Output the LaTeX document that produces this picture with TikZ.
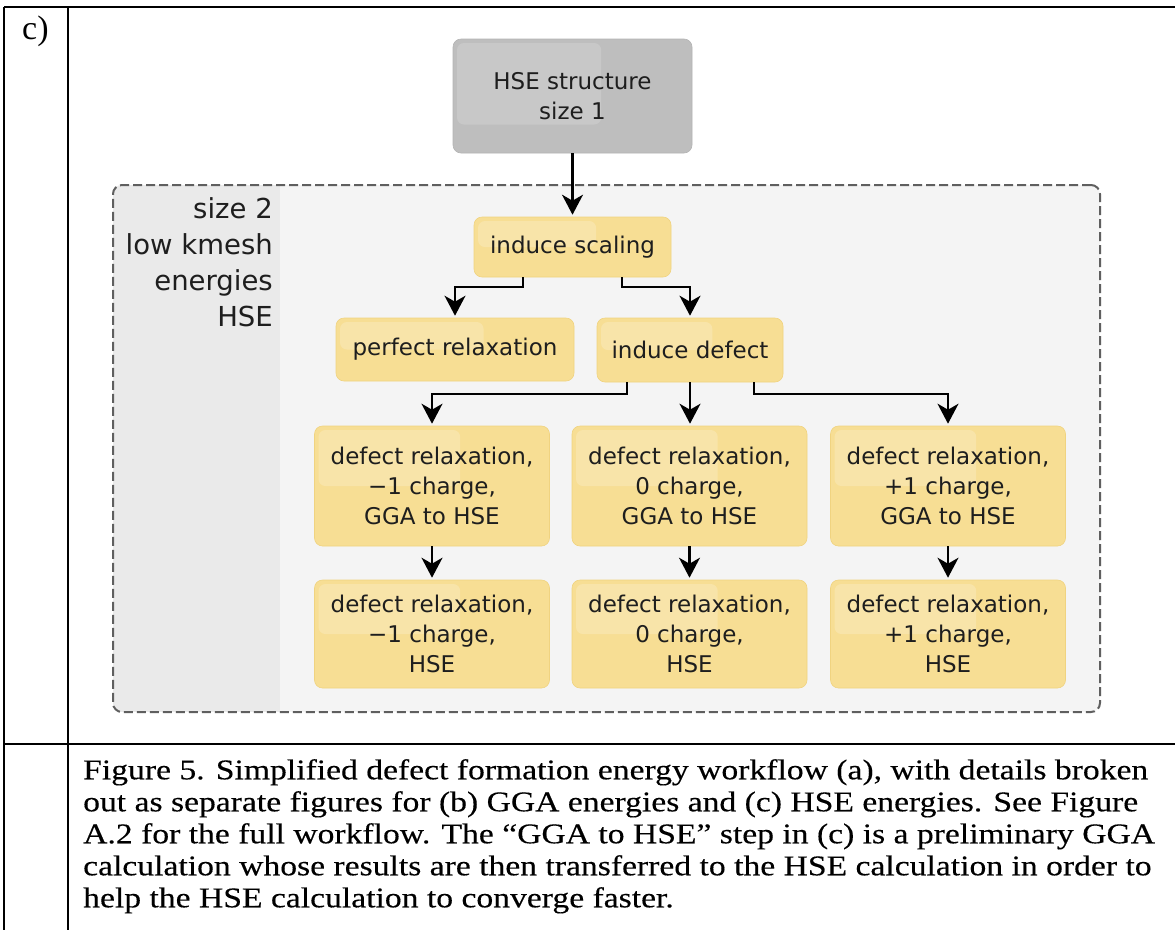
\documentclass[tikz,border=0pt]{standalone}
\usepackage{fontspec}
\setmainfont{Liberation Serif}
\newfontfamily\capfont{Liberation Serif}[FakeStretch=1.18,FakeBold=0.3]
\newfontfamily\boxfont{DejaVu Sans}
\usetikzlibrary{arrows.meta,calc}

\definecolor{boxyellow}{RGB}{247,222,148}
\definecolor{boxedge}{RGB}{240,211,128}
\definecolor{boxgray}{RGB}{190,190,190}
\definecolor{grayedge}{RGB}{180,180,180}
\definecolor{groupfill}{RGB}{244,244,244}
\definecolor{bandfill}{RGB}{234,234,234}
\definecolor{dashcol}{RGB}{95,95,95}
\definecolor{inktext}{RGB}{30,30,30}

\tikzset{
  glossy/.style 2 args={path picture={
    \fill[white,fill opacity=#1,rounded corners=7pt]
      let \p1=(path picture bounding box.north west),
          \p2=(path picture bounding box.south east)
      in (\x1+4pt,\y1-4pt) rectangle ({\x1+0.62*(\x2-\x1)},{\y1+#2*(\y2-\y1)});
  }},
  stepbase/.style={rounded corners=8pt, inner sep=0pt, align=center,
    text=inktext, line width=0.6pt,
    font=\boxfont\fontsize{23}{30}\selectfont},
  stepyellow/.style={stepbase, fill=boxyellow, draw=boxedge, glossy={0.2}{0.5}},
  stepgray/.style={stepbase, fill=boxgray, draw=grayedge, glossy={0.16}{0.75}},
  arr/.style={line width=2.2pt, shorten >=2pt,
    -{Stealth[length=20pt,width=21pt,inset=6pt]}},
  rule/.style={line width=1.2pt, black},
  thickrule/.style={line width=2.2pt, black},
}

\begin{document}
\begin{tikzpicture}[x=1pt,y=-1pt]
\useasboundingbox (0,0) rectangle (1175,930);
\fill[white] (0,0) rectangle (1175,930);

% table frame
\draw[thickrule] (4,7) -- (4,930);
\draw[thickrule] (68,7) -- (68,930);
\draw[rule] (4,7) -- (1175,7);
\draw[rule] (4,744) -- (1175,744);
\draw[thickrule] (4,7) -- (82,7);
\draw[thickrule] (1130,7) -- (1175,7);
\draw[thickrule] (4,744) -- (82,744);
\draw[thickrule] (1130,744) -- (1175,744);

\node[anchor=base west, inner sep=0pt, font=\fontsize{34}{40}\selectfont] (panel) at (22,39) {c)};

% dashed group with its shaded label band
\begin{scope}
  \clip[rounded corners=9pt] (113,185) rectangle (1100,712);
  \fill[groupfill] (113,185) rectangle (1100,712);
  \fill[bandfill] (113,185) rectangle (280,712);
\end{scope}
\node[draw=dashcol, line width=2pt, dash pattern=on 9pt off 4pt,
      rounded corners=9pt, minimum width=987pt, minimum height=527pt,
      inner sep=0pt] (group) at (606.5,448.5) {};
\node[anchor=north east, inner sep=0pt, align=right, text=inktext,
      font=\boxfont\fontsize{27.5}{36}\selectfont] (grouplabel) at (273,197)
  {size 2\\low kmesh\\energies\\HSE};

% workflow steps
\node[stepgray, minimum width=239pt, minimum height=114pt] (top) at (572.5,96) {HSE structure\\size 1};
\node[stepyellow, minimum width=197pt, minimum height=60pt] (scale) at (572.5,247) {induce scaling};
\node[stepyellow, minimum width=238pt, minimum height=63pt] (perfect) at (455,349.5) {perfect relaxation};
\node[stepyellow, minimum width=186pt, minimum height=64pt] (defect) at (690,350) {induce defect};

\node[stepyellow, minimum width=235pt, minimum height=120pt] (r1a) at (432,486) {defect relaxation,\\−1 charge,\\GGA to HSE};
\node[stepyellow, minimum width=235pt, minimum height=120pt] (r1b) at (689.5,486) {defect relaxation,\\0 charge,\\GGA to HSE};
\node[stepyellow, minimum width=235pt, minimum height=120pt] (r1c) at (948,486) {defect relaxation,\\+1 charge,\\GGA to HSE};

\node[stepyellow, minimum width=235pt, minimum height=108pt] (r2a) at (432,634) {defect relaxation,\\−1 charge,\\HSE};
\node[stepyellow, minimum width=235pt, minimum height=108pt] (r2b) at (689.5,634) {defect relaxation,\\0 charge,\\HSE};
\node[stepyellow, minimum width=235pt, minimum height=108pt] (r2c) at (948,634) {defect relaxation,\\+1 charge,\\HSE};

% connectors
\draw[arr] (top.south) -- (scale.north);
\draw[arr] ([xshift=-49.5pt]scale.south) -- ++(0,10) -| (perfect.north);
\draw[arr] ([xshift=49.5pt]scale.south) -- ++(0,10) -| (defect.north);
\draw[arr] ([xshift=-63pt]defect.south) -- ++(0,12) -| (r1a.north);
\draw[arr] (defect.south) -- (defect.south |- r1b.north);
\draw[arr] ([xshift=64pt]defect.south) -- ++(0,12) -| (r1c.north);
\draw[arr] (r1a.south) -- (r2a.north);
\draw[arr] (r1b.south) -- (r2b.north);
\draw[arr] (r1c.south) -- (r2c.north);

% caption
\node[anchor=north west, inner sep=0pt, align=left,
      font=\capfont\fontsize{28.5}{32}\selectfont] (caption) at (83,759)
  {Figure 5. Simplified defect formation energy workflow (a), with details broken\\
   out as separate figures for (b) GGA energies and (c) HSE energies. See Figure\\
   A.2 for the full workflow. The “GGA to HSE” step in (c) is a preliminary GGA\\
   calculation whose results are then transferred to the HSE calculation in order to\\
   help the HSE calculation to converge faster.};
\end{tikzpicture}
\end{document}
